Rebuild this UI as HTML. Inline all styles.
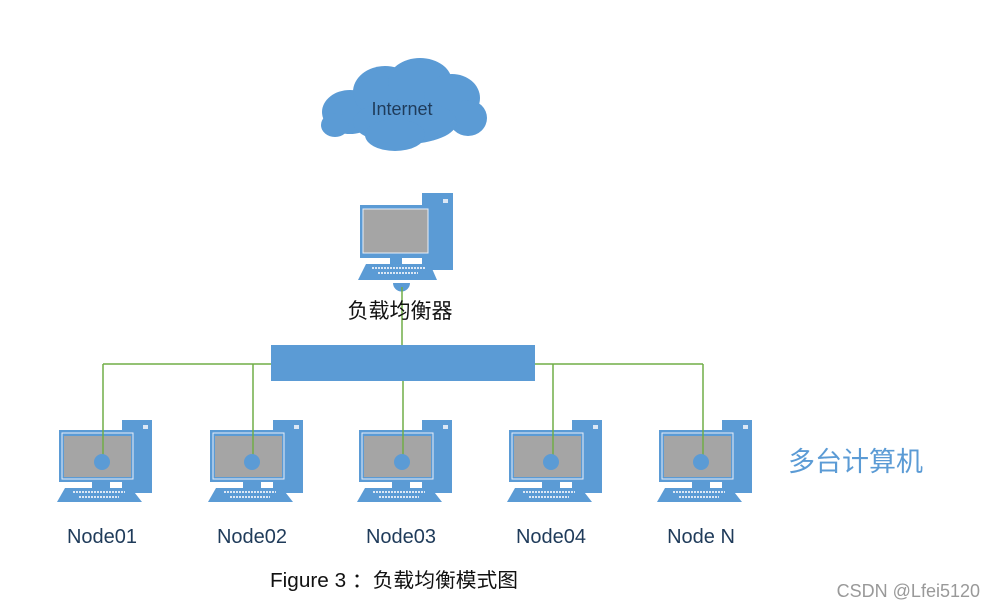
<!DOCTYPE html>
<html><head><meta charset="utf-8"><style>
html,body{margin:0;padding:0;background:#fff;}
svg{display:block}
</style></head><body>
<svg width="995" height="610" viewBox="0 0 995 610" xmlns="http://www.w3.org/2000/svg">
<defs>
<g id="pc">
  <rect x="63" y="-10" width="30" height="73" fill="#5b9bd5"/>
  <rect x="84" y="-5" width="5" height="4" fill="#dbe7f5"/>
  <rect x="0" y="0" width="77" height="52" fill="#5b9bd5"/>
  <rect x="3" y="3" width="71" height="46" fill="none" stroke="#e8eef6" stroke-width="1"/>
  <rect x="5" y="6" width="67" height="41" fill="#a5a5a5"/>
  <rect x="33" y="52" width="18" height="6" fill="#5b9bd5"/>
  <polygon points="6,58 72,58 83,72 -2,72" fill="#5b9bd5"/>
  <line x1="14" y1="62" x2="66" y2="62" stroke="#dbe7f5" stroke-width="2" stroke-dasharray="2,1"/>
  <line x1="20" y1="67" x2="60" y2="67" stroke="#dbe7f5" stroke-width="2" stroke-dasharray="2,1"/>
</g>
</defs>
<!-- cloud -->
<g fill="#5b9bd5">
  <ellipse cx="350" cy="112" rx="28" ry="22"/>
  <ellipse cx="385" cy="92" rx="32" ry="26"/>
  <ellipse cx="420" cy="82" rx="32" ry="24"/>
  <ellipse cx="452" cy="98" rx="28" ry="24"/>
  <ellipse cx="468" cy="118" rx="19" ry="18"/>
  <ellipse cx="405" cy="122" rx="52" ry="22"/>
  <ellipse cx="395" cy="135" rx="30" ry="16"/>
  <ellipse cx="335" cy="125" rx="14" ry="12"/>
</g>
<text x="402" y="115" text-anchor="middle" font-family="Liberation Sans, sans-serif" font-size="18" fill="#1f3b5a">Internet</text>
<!-- server -->
<g>
  <rect x="422" y="193" width="31" height="77" fill="#5b9bd5"/>
  <rect x="443" y="199" width="5" height="4" fill="#dbe7f5"/>
  <rect x="360" y="205" width="72" height="53" fill="#5b9bd5"/>
  <rect x="363" y="209" width="65" height="44" fill="#a5a5a5" stroke="#e8eef6" stroke-width="1"/>
  <rect x="390" y="258" width="12" height="6" fill="#5b9bd5"/>
  <polygon points="366,264 430,264 437,280 358,280" fill="#5b9bd5"/>
  <line x1="372" y1="268" x2="425" y2="268" stroke="#dbe7f5" stroke-width="2" stroke-dasharray="2,1"/>
  <line x1="378" y1="273" x2="418" y2="273" stroke="#dbe7f5" stroke-width="2" stroke-dasharray="2,1"/>
  <path d="M393,283 L410,283 A8.5,8.5 0 0 1 393,283 Z" fill="#5b9bd5"/>
</g>
<!-- lines -->
<g stroke="#70ad47" stroke-width="1.5" fill="none">
  <line x1="402" y1="287" x2="402" y2="345"/>
  <line x1="103" y1="364" x2="703" y2="364"/>
  <line x1="103" y1="364" x2="103" y2="461"/>
  <line x1="253" y1="364" x2="253" y2="461"/>
  <line x1="553" y1="364" x2="553" y2="461"/>
  <line x1="703" y1="364" x2="703" y2="461"/>
  <line x1="403" y1="381" x2="403" y2="461"/>
</g>
<text x="400" y="318" text-anchor="middle" font-family="Liberation Sans, Noto Sans CJK SC, sans-serif" font-size="21" fill="#111">负载均衡器</text>
<rect x="271" y="345" width="264" height="36" fill="#5b9bd5"/>
<!-- nodes -->
<g>
  <use href="#pc" x="59" y="430"/>
  <use href="#pc" x="210" y="430"/>
  <use href="#pc" x="359" y="430"/>
  <use href="#pc" x="509" y="430"/>
  <use href="#pc" x="659" y="430"/>
</g>
<g stroke="#70ad47" stroke-width="1.5">
  <line x1="103" y1="430" x2="103" y2="461"/>
  <line x1="253" y1="430" x2="253" y2="461"/>
  <line x1="403" y1="430" x2="403" y2="461"/>
  <line x1="553" y1="430" x2="553" y2="461"/>
  <line x1="703" y1="430" x2="703" y2="461"/>
</g>
<g fill="#5b9bd5">
  <circle cx="102" cy="462" r="8"/>
  <circle cx="252" cy="462" r="8"/>
  <circle cx="402" cy="462" r="8"/>
  <circle cx="551" cy="462" r="8"/>
  <circle cx="701" cy="462" r="8"/>
</g>
<g font-family="Liberation Sans, sans-serif" font-size="20" fill="#1f3b5a" text-anchor="middle">
  <text x="102" y="543">Node01</text>
  <text x="252" y="543">Node02</text>
  <text x="401" y="543">Node03</text>
  <text x="551" y="543">Node04</text>
  <text x="701" y="543">Node N</text>
</g>
<text x="788" y="471" font-family="Liberation Sans, Noto Sans CJK SC, sans-serif" font-size="27" fill="#5b9bd5">多台计算机</text>
<text x="270" y="587" font-family="Liberation Sans, Noto Sans CJK SC, sans-serif" font-size="20" fill="#111" textLength="248" lengthAdjust="spacingAndGlyphs">Figure 3 ：负载均衡模式图</text>
<text x="980" y="597" text-anchor="end" font-family="Liberation Sans, sans-serif" font-size="18" fill="#999">CSDN @Lfei5120</text>
</svg>
</body></html>
